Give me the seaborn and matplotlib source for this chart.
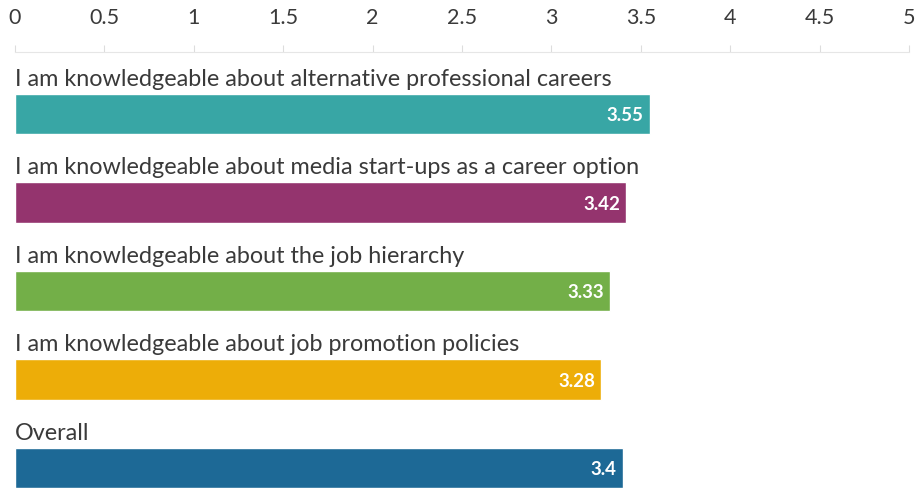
import matplotlib
matplotlib.use("Agg")
import matplotlib.pyplot as plt
import seaborn as sns
import pandas as pd

statements = [
    "I am knowledgeable about alternative professional careers",
    "I am knowledgeable about media start-ups as a career option",
    "I am knowledgeable about the job hierarchy",
    "I am knowledgeable about job promotion policies",
    "Overall",
]
scores = [3.55, 3.42, 3.33, 3.28, 3.4]
score_labels = ["3.55", "3.42", "3.33", "3.28", "3.4"]
bar_colors = ["#38A6A5", "#94346E", "#73AF48", "#EDAD08", "#1D6996"]
ticks = [0, 0.5, 1, 1.5, 2, 2.5, 3, 3.5, 4, 4.5, 5]
tick_labels = ["0", "0.5", "1", "1.5", "2", "2.5", "3", "3.5", "4", "4.5", "5"]

df = pd.DataFrame({"statement": statements, "score": scores})

sns.set_theme(style="white")
plt.rcParams["font.family"] = ["Lato", "DejaVu Sans"]

W, H = 916, 489
fig = plt.figure(figsize=(W / 100, H / 100), dpi=100)
ax = fig.add_axes([15 / W, 0, 894 / W, 436 / H])

sns.barplot(
    data=df, x="score", y="statement", hue="statement",
    palette=bar_colors, legend=False, orient="h", width=0.46,
    saturation=1, ax=ax,
)

ax.set_xlim(0, 5)
ax.set_ylim(4.226, -0.70)

for i, (txt, val, lab) in enumerate(zip(statements, scores, score_labels)):
    ax.text(0, i - 0.33, txt, ha="left", va="baseline",
            fontsize=16.8, color="#3a3a3a")
    ax.text(val - 0.035, i + 0.01, lab, ha="right", va="center",
            fontsize=13.5, fontweight="bold", color="white")

ax.xaxis.tick_top()
ax.set_xticks(ticks)
ax.set_xticklabels(tick_labels, fontsize=15.5, color="#3a3a3a")
ax.tick_params(axis="x", top=True, length=5, width=0.8, color="#dddddd",
               pad=13, direction="out")
ax.set_yticks([])
ax.set_xlabel("")
ax.set_ylabel("")
for side in ["right", "bottom", "left"]:
    ax.spines[side].set_visible(False)
ax.spines["top"].set_color("#e6e6e6")
ax.spines["top"].set_linewidth(0.8)

fig.savefig("out.png", dpi=100)
